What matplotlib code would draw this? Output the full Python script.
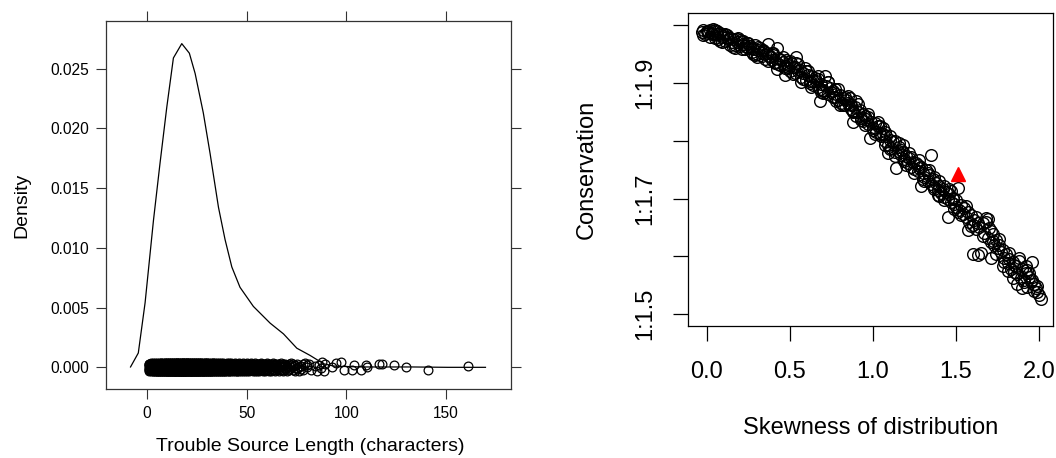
import numpy as np
import matplotlib
matplotlib.use("Agg")
import matplotlib.pyplot as plt

plt.rcParams['font.family'] = ['Liberation Sans', 'DejaVu Sans']

# ---- left panel: trouble source length ----
dens_x = [-8.3, -4.4, -1.0, 3.2, 6.5, 9.9, 13.2, 17.4, 21.2, 24.1, 28.2, 31.6,
          35.8, 39.1, 42.5, 46.6, 53.3, 61.7, 68.4, 75.1, 81.7, 88.5, 93.7,
          107.5, 133.0, 150.7, 169.7]
dens_y = [0.00003, 0.0012, 0.0054, 0.0123, 0.0171, 0.0218, 0.0259, 0.0271,
          0.0263, 0.0246, 0.0213, 0.0179, 0.0134, 0.0107, 0.0084, 0.0067,
          0.0051, 0.0037, 0.0028, 0.0016, 0.0010, 0.0003, 0.0001, 0.00003,
          0.00003, 0.0, 0.0]

lengths = np.arange(1, 91)
length_counts = [8, 12, 15, 18, 21, 24, 25, 27, 29, 31,
                 33, 35, 37, 38, 39, 40, 41, 41, 40, 39,
                 38, 37, 36, 35, 33, 32, 30, 29, 27, 26,
                 24, 23, 21, 20, 18, 17, 16, 15, 14, 13,
                 12, 11, 11, 10, 10, 9, 9, 9, 8, 8,
                 8, 7, 7, 7, 7, 6, 6, 6, 6, 6,
                 5, 5, 5, 5, 4, 4, 4, 4, 4, 3,
                 3, 3, 3, 2, 3, 2, 2, 2, 1, 2,
                 1, 1, 0, 1, 1, 1, 1, 0, 1, 0]
jitter = [0.00031, -0.00022, 0.00008, -0.00034, 0.00019, -0.00005, 0.00027,
          -0.00016, 0.00002, -0.00029, 0.00013, -0.00010, 0.00024, -0.00026,
          0.00035, -0.00001, 0.00016]

long_x = [87.6, 88.5, 92.8, 94.5, 97.1, 98.8, 102.8, 104.0, 107.5, 109.7,
          110.1, 116.1, 117.9, 123.9, 129.9, 140.7, 160.7]
long_y = [0.00045, -0.0003, 0.0, 0.00036, 0.00045, -0.00025, -0.00025, 0.00017,
          -0.00025, 0.00017, 0.00003, 0.0003, 0.0003, 0.00022, 0.0, -0.00025,
          0.0001]

# ---- right panel: skewness vs conservation ----
skew = [-0.03, -0.02, -0.01, 0.00, 0.01, 0.02, 0.03, 0.04, 0.05, -0.02, 0.01, 0.03,
        0.06, 0.07, 0.08, 0.09, 0.10, 0.11, 0.12, 0.13, 0.14, 0.06, 0.09, 0.12, 0.15,
        0.16, 0.17, 0.18, 0.19, 0.20, 0.21, 0.22, 0.23, 0.24, 0.17, 0.20, 0.23, 0.25,
        0.26, 0.27, 0.28, 0.29, 0.30, 0.31, 0.32, 0.33, 0.34, 0.27, 0.30, 0.33, 0.35,
        0.36, 0.37, 0.38, 0.39, 0.40, 0.41, 0.42, 0.43, 0.44, 0.37, 0.40, 0.42, 0.45, 0.38,
        0.46, 0.47, 0.48, 0.49, 0.50, 0.51, 0.52, 0.53, 0.54, 0.47, 0.50, 0.53, 0.55,
        0.56, 0.57, 0.58, 0.59, 0.60, 0.61, 0.62, 0.63, 0.64, 0.57, 0.60, 0.63, 0.65,
        0.66, 0.67, 0.68, 0.69, 0.70, 0.71, 0.72, 0.73, 0.74, 0.67, 0.70, 0.73, 0.75, 0.68,
        0.76, 0.77, 0.78, 0.79, 0.80, 0.81, 0.82, 0.83, 0.84, 0.77, 0.80, 0.83, 0.85,
        0.86, 0.87, 0.88, 0.89, 0.90, 0.91, 0.92, 0.93, 0.94, 0.87, 0.90, 0.93, 0.95, 0.88,
        0.96, 0.97, 0.98, 0.99, 1.00, 1.01, 1.02, 1.03, 1.04, 0.97, 1.00, 1.03, 1.05,
        1.06, 1.07, 1.08, 1.09, 1.10, 1.11, 1.12, 1.13, 1.14, 1.07, 1.10, 1.13, 1.15, 1.09,
        1.16, 1.17, 1.18, 1.19, 1.20, 1.21, 1.22, 1.23, 1.24, 1.17, 1.20, 1.23, 1.25,
        1.26, 1.27, 1.28, 1.29, 1.30, 1.31, 1.32, 1.33, 1.34, 1.27, 1.30, 1.33, 1.35,
        1.36, 1.37, 1.38, 1.39, 1.40, 1.41, 1.42, 1.43, 1.44, 1.35, 1.37, 1.40, 1.43, 1.45, 1.45,
        1.46, 1.47, 1.48, 1.49, 1.50, 1.51, 1.52, 1.53, 1.54, 1.47, 1.50, 1.51, 1.55,
        1.56, 1.57, 1.58, 1.59, 1.60, 1.61, 1.62, 1.63, 1.64, 1.60, 1.65, 1.57,
        1.66, 1.67, 1.68, 1.69, 1.70, 1.71, 1.72, 1.73, 1.74, 1.68, 1.71, 1.71, 1.75,
        1.76, 1.77, 1.78, 1.79, 1.80, 1.81, 1.82, 1.83, 1.84, 1.78, 1.81, 1.85,
        1.86, 1.87, 1.88, 1.89, 1.90, 1.91, 1.92, 1.93, 1.94, 1.87, 1.90, 1.93, 1.95,
        1.96, 1.97, 1.98, 1.99, 2.00, 2.01, 1.96, 1.99,
        0.02, 0.05, 0.08, 0.11, 0.14, 0.18, 0.21, 0.25, 0.28, 0.31, 0.35, 0.39,
        0.43, 0.46, 0.49, 0.04, 0.10, 0.16, 0.22, 0.29, 0.34, 0.41, 0.47,
        0.52, 0.55, 0.58, 0.61, 0.64, 0.67, 0.70, 0.73, 0.76, 0.79, 0.82, 0.85,
        0.88, 0.91, 0.94, 0.97, 0.54, 0.62, 0.69, 0.78, 0.86, 0.95,
        1.01, 1.04, 1.07, 1.10, 1.13, 1.16, 1.19, 1.22, 1.25, 1.28, 1.31, 1.34,
        1.37, 1.40, 1.43, 1.46, 1.49, 1.06, 1.18, 1.29, 1.39, 1.48,
        1.53, 1.56, 1.59, 1.62, 1.66, 1.69, 1.72, 1.76, 1.79, 1.82, 1.85, 1.88,
        1.91, 1.94, 1.97, 1.63, 1.74, 1.84, 1.92]
cons = [1.988, 1.991, 1.985, 1.990, 1.987, 1.992, 1.984, 1.989, 1.991, 1.983, 1.990, 1.986,
        1.984, 1.976, 1.986, 1.979, 1.981, 1.972, 1.983, 1.975, 1.977, 1.989, 1.970, 1.980, 1.971,
        1.975, 1.966, 1.970, 1.978, 1.963, 1.972, 1.967, 1.958, 1.969, 1.961, 1.974, 1.964, 1.960,
        1.963, 1.953, 1.958, 1.966, 1.950, 1.957, 1.961, 1.946, 1.955, 1.960, 1.944, 1.952, 1.949,
        1.951, 1.967, 1.945, 1.940, 1.948, 1.936, 1.961, 1.943, 1.931, 1.938, 1.952, 1.924, 1.939, 1.947,
        1.936, 1.925, 1.940, 1.930, 1.921, 1.934, 1.927, 1.917, 1.944, 1.914, 1.938, 1.928, 1.920,
        1.922, 1.910, 1.917, 1.926, 1.905, 1.914, 1.899, 1.911, 1.903, 1.902, 1.920, 1.893, 1.908,
        1.903, 1.893, 1.869, 1.898, 1.887, 1.912, 1.894, 1.880, 1.891, 1.906, 1.882, 1.901, 1.885, 1.890,
        1.886, 1.875, 1.881, 1.870, 1.879, 1.866, 1.874, 1.861, 1.870, 1.890, 1.862, 1.876, 1.865,
        1.863, 1.855, 1.832, 1.858, 1.869, 1.849, 1.853, 1.840, 1.846, 1.862, 1.843, 1.835, 1.842, 1.851,
        1.838, 1.829, 1.804, 1.833, 1.822, 1.830, 1.815, 1.826, 1.811, 1.841, 1.818, 1.833, 1.808,
        1.812, 1.800, 1.808, 1.793, 1.802, 1.788, 1.797, 1.781, 1.752, 1.815, 1.785, 1.799, 1.783, 1.778,
        1.790, 1.775, 1.781, 1.768, 1.774, 1.762, 1.770, 1.755, 1.764, 1.784, 1.758, 1.772, 1.751,
        1.761, 1.747, 1.753, 1.722, 1.745, 1.738, 1.750, 1.731, 1.741, 1.758, 1.734, 1.744, 1.725,
        1.733, 1.720, 1.727, 1.714, 1.722, 1.709, 1.717, 1.702, 1.712, 1.775, 1.738, 1.704, 1.721, 1.700, 1.669,
        1.708, 1.694, 1.701, 1.690, 1.686, 1.719, 1.681, 1.689, 1.674, 1.713, 1.697, 1.677, 1.684,
        1.668, 1.676, 1.660, 1.671, 1.655, 1.663, 1.648, 1.658, 1.651, 1.604, 1.606, 1.645,
        1.657, 1.641, 1.666, 1.632, 1.650, 1.625, 1.638, 1.620, 1.629, 1.660, 1.597, 1.644, 1.615,
        1.619, 1.607, 1.612, 1.598, 1.604, 1.588, 1.596, 1.578, 1.590, 1.583, 1.574, 1.586,
        1.584, 1.570, 1.592, 1.562, 1.578, 1.555, 1.571, 1.548, 1.565, 1.553, 1.545, 1.576, 1.558,
        1.591, 1.552, 1.545, 1.538, 1.533, 1.526, 1.560, 1.549,
        1.980, 1.977, 1.972, 1.985, 1.965, 1.976, 1.958, 1.969, 1.950, 1.962, 1.941, 1.952,
        1.933, 1.944, 1.925, 1.993, 1.984, 1.962, 1.973, 1.948, 1.956, 1.934, 1.929,
        1.916, 1.933, 1.906, 1.921, 1.897, 1.911, 1.886, 1.901, 1.875, 1.890, 1.862, 1.877,
        1.849, 1.863, 1.834, 1.846, 1.935, 1.904, 1.885, 1.868, 1.874, 1.828,
        1.811, 1.826, 1.792, 1.809, 1.774, 1.796, 1.765, 1.779, 1.745, 1.766, 1.730, 1.749,
        1.717, 1.731, 1.697, 1.716, 1.682, 1.822, 1.792, 1.754, 1.706, 1.700,
        1.671, 1.688, 1.652, 1.669, 1.636, 1.664, 1.627, 1.630, 1.590, 1.606, 1.573, 1.598,
        1.559, 1.572, 1.541, 1.603, 1.605, 1.562, 1.584]
target_skew = [1.512]
target_cons = [1.742]

y_ticks = [1.5, 1.6, 1.7, 1.8, 1.9, 2.0]
y_ticklabels = ['1:1.5', '', '1:1.7', '', '1:1.9', '']
x_ticks = [0.0, 0.5, 1.0, 1.5, 2.0]


fig = plt.figure(figsize=(10.56, 4.58), dpi=100)

# left: lattice style density plot
ax1 = fig.add_axes([106 / 1056, 1 - 389.3 / 458, 405 / 1056, 368.6 / 458])
ax1.plot(dens_x, dens_y, color='black', lw=0.9)

px, py = [], []
k = 0
for L, c in zip(lengths, length_counts):
    for _ in range(c):
        px.append(L)
        py.append(jitter[k % len(jitter)])
        k += 1
px += long_x
py += long_y
ax1.plot(px, py, 'o', ms=6.3, mfc='none', mec='black', mew=0.9, ls='none')

ax1.set_xlim(-20.6, 182.5)
ax1.set_ylim(-0.00184, 0.02902)
ax1.set_xticks([0, 50, 100, 150])
ax1.set_yticks([0.0, 0.005, 0.010, 0.015, 0.020, 0.025])
ax1.set_yticklabels(['%.3f' % v for v in ax1.get_yticks()])
ax1.tick_params(direction='out', length=7, width=0.8, top=True, right=True,
                labeltop=False, labelright=False, labelsize=11.2, pad=5,
                color='#333333')
for s in ax1.spines.values():
    s.set_color('#333333')
    s.set_linewidth(0.9)
ax1.set_xlabel('Trouble Source Length (characters)', fontsize=14)
ax1.set_ylabel('Density', fontsize=14)
ax1.xaxis.set_label_coords(0.504, -0.1565)
ax1.xaxis.label.set_va('center')
ax1.yaxis.set_label_coords(-0.2086, 0.5)
ax1.yaxis.label.set_va('center')

# right: base R scatter
ax2 = fig.add_axes([688.3 / 1056, 1 - 326 / 458, 365 / 1056, 312.7 / 458])
ax2.plot(skew, cons, 'o', ms=8.4, mfc='none', mec='black', mew=1.0, ls='none')
ax2.plot(target_skew, target_cons, '^', ms=9.5, color='red', mec='red')
ax2.set_xlim(-0.1107, 2.0854)
ax2.set_ylim(1.4798, 2.0202)
ax2.set_xticks(x_ticks)
ax2.set_xticklabels(['%.1f' % v for v in x_ticks])
ax2.set_yticks(y_ticks)
ax2.set_yticklabels(y_ticklabels, rotation=90, va='center')
ax2.tick_params(direction='out', length=11, width=0.9, labelsize=17)
ax2.tick_params(axis='x', pad=14)
ax2.tick_params(axis='y', pad=12)
for s in ax2.spines.values():
    s.set_color('black')
    s.set_linewidth(0.9)
ax2.set_xlabel('Skewness of distribution', fontsize=17)
ax2.set_ylabel('Conservation', fontsize=17)
ax2.xaxis.set_label_coords(0.5, -0.326)
ax2.xaxis.label.set_va('center')
ax2.yaxis.set_label_coords(-0.2775, 0.502)
ax2.yaxis.label.set_va('center')

fig.savefig('out.png', dpi=100)
